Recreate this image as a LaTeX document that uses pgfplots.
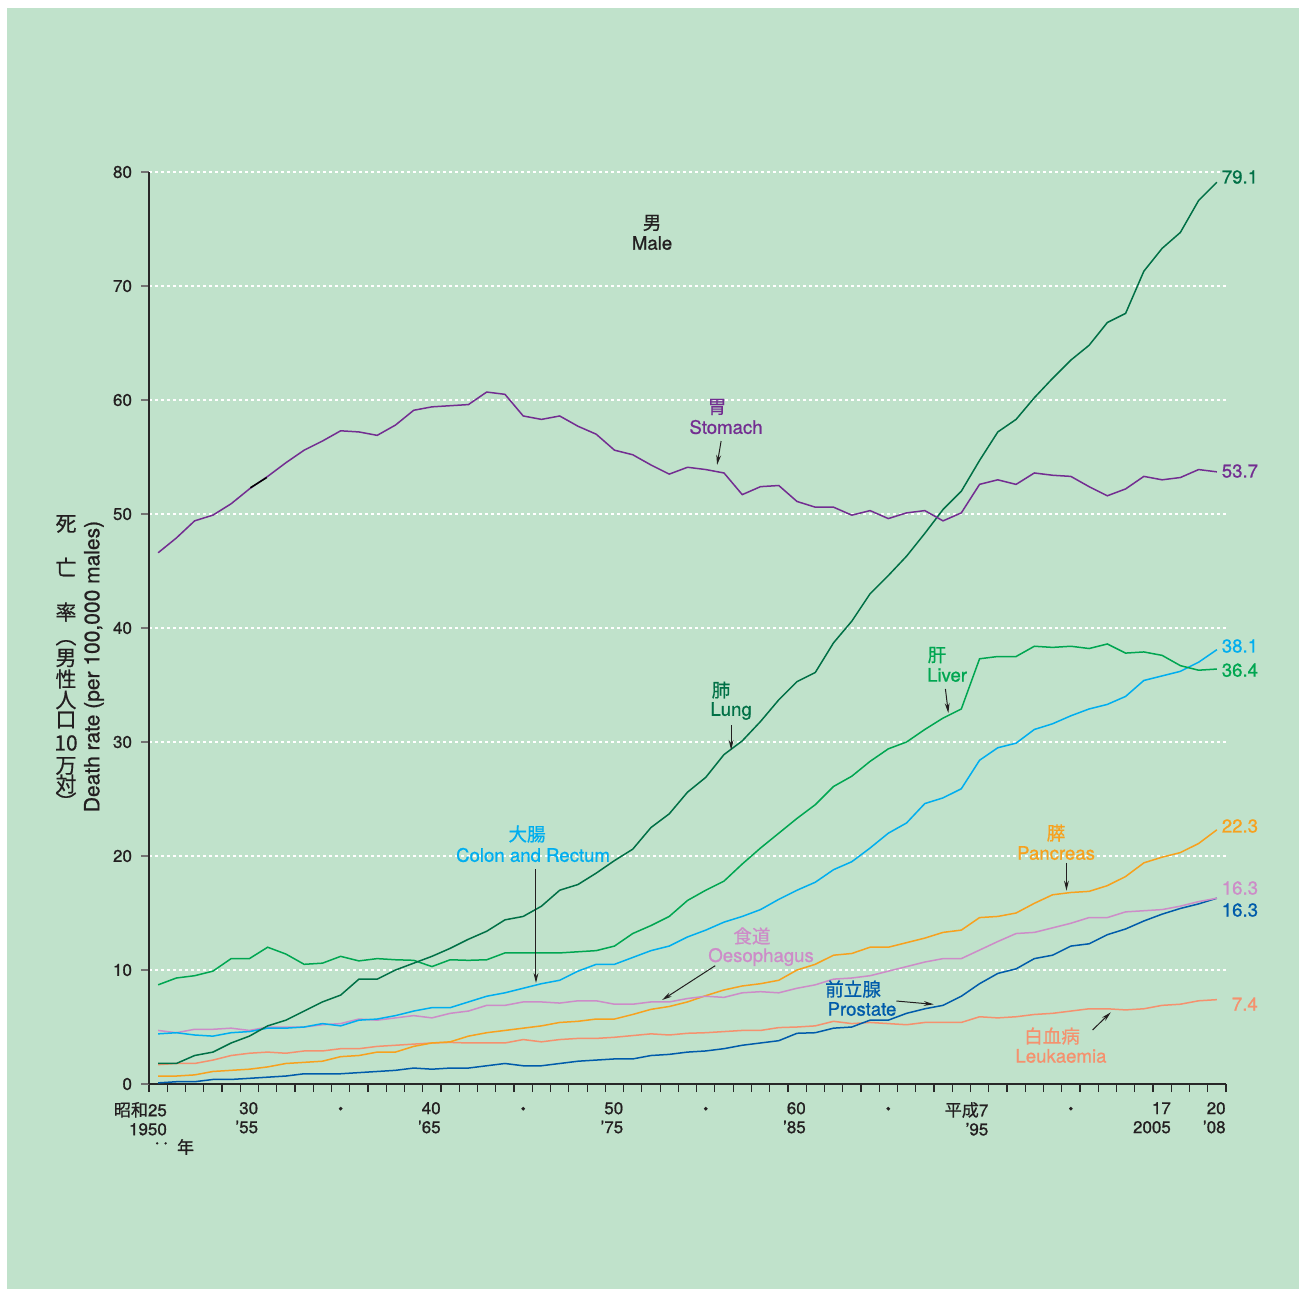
\documentclass[border=0pt]{standalone}
\usepackage{pgfplots}
\pgfplotsset{compat=1.18}
\usepackage{pgfplotstable}
\usetikzlibrary{arrows.meta}
\usepackage{fontspec}
\setmainfont{TeX Gyre Heros}[FakeBold=0.9]
\newfontfamily\cjk{Noto Sans CJK JP}[FakeBold=0.6]
\definecolor{bg}{RGB}{192,226,203}
\definecolor{txt}{RGB}{35,31,32}
\definecolor{axc}{RGB}{40,40,40}
\definecolor{cst}{RGB}{115,45,145}
\definecolor{clu}{RGB}{0,112,70}
\definecolor{cli}{RGB}{0,166,81}
\definecolor{cco}{RGB}{0,174,239}
\definecolor{cpa}{RGB}{247,161,30}
\definecolor{coe}{RGB}{205,140,200}
\definecolor{cpr}{RGB}{0,91,170}
\definecolor{cle}{RGB}{245,145,110}
\newcommand\fa{\fontsize{9.3}{10.2}\selectfont}
\newcommand\fb{\fontsize{8.5}{9.5}\selectfont}
\newcommand\fy{\fontsize{10.5}{12}\selectfont}

\pgfplotstableread{
year st lu li co pa oe pr le
1950 46.6 1.8 8.7 4.4 0.7 4.7 0.1 1.7
1951 47.9 1.8 9.3 4.5 0.7 4.5 0.2 1.8
1952 49.4 2.5 9.5 4.3 0.8 4.8 0.2 1.8
1953 49.9 2.8 9.9 4.2 1.1 4.8 0.4 2.1
1954 50.9 3.6 11.0 4.5 1.2 4.9 0.4 2.5
1955 52.2 4.2 11.0 4.6 1.3 4.7 0.5 2.7
1956 53.3 5.1 12.0 4.9 1.5 5.0 0.6 2.8
1957 54.5 5.6 11.4 4.9 1.8 5.0 0.7 2.7
1958 55.6 6.4 10.5 5.0 1.9 5.0 0.9 2.9
1959 56.4 7.2 10.6 5.3 2.0 5.2 0.9 2.9
1960 57.3 7.8 11.2 5.1 2.4 5.3 0.9 3.1
1961 57.2 9.2 10.8 5.6 2.5 5.7 1.0 3.1
1962 56.9 9.2 11.0 5.7 2.8 5.6 1.1 3.3
1963 57.8 10.0 10.9 6.0 2.8 5.8 1.2 3.4
1964 59.1 10.6 10.85 6.4 3.3 6.0 1.4 3.5
1965 59.4 11.2 10.3 6.7 3.6 5.8 1.3 3.6
1966 59.5 11.9 10.9 6.7 3.7 6.2 1.4 3.65
1967 59.6 12.7 10.85 7.2 4.2 6.4 1.4 3.6
1968 60.7 13.4 10.9 7.7 4.5 6.9 1.6 3.6
1969 60.5 14.4 11.5 8.0 4.7 6.9 1.8 3.6
1970 58.6 14.7 11.5 8.4 4.9 7.2 1.6 3.9
1971 58.3 15.6 11.5 8.8 5.1 7.2 1.6 3.7
1972 58.6 17.0 11.5 9.1 5.4 7.1 1.8 3.9
1973 57.7 17.5 11.6 9.9 5.5 7.3 2.0 4.0
1974 57.0 18.5 11.7 10.5 5.7 7.3 2.1 4.0
1975 55.6 19.6 12.1 10.5 5.7 7.0 2.2 4.1
1976 55.2 20.6 13.2 11.1 6.1 7.0 2.2 4.25
1977 54.3 22.5 13.9 11.7 6.55 7.2 2.5 4.4
1978 53.5 23.7 14.7 12.1 6.8 7.2 2.6 4.3
1979 54.1 25.6 16.1 12.9 7.2 7.5 2.8 4.45
1980 53.9 26.9 17.0 13.5 7.75 7.7 2.9 4.5
1981 53.6 28.9 17.8 14.2 8.25 7.6 3.1 4.6
1982 51.7 30.1 19.3 14.7 8.6 8.0 3.4 4.7
1983 52.4 31.8 20.7 15.3 8.8 8.1 3.6 4.7
1984 52.5 33.7 22.0 16.2 9.1 8.0 3.8 4.95
1985 51.1 35.3 23.3 17.0 10.0 8.4 4.45 5.0
1986 50.6 36.1 24.5 17.7 10.5 8.7 4.5 5.1
1987 50.6 38.7 26.1 18.8 11.3 9.2 4.9 5.5
1988 49.9 40.6 27.0 19.5 11.45 9.3 5.0 5.3
1989 50.3 43.0 28.3 20.7 12.0 9.5 5.6 5.4
1990 49.6 44.6 29.4 22.0 12.0 9.9 5.6 5.3
1991 50.1 46.3 30.0 22.9 12.4 10.3 6.2 5.2
1992 50.3 48.3 31.1 24.6 12.8 10.7 6.6 5.4
1993 49.4 50.4 32.1 25.1 13.3 11.0 6.9 5.4
1994 50.1 52.0 32.9 25.9 13.5 11.0 7.7 5.4
1995 52.6 54.7 37.3 28.4 14.6 11.75 8.8 5.9
1996 53.0 57.2 37.5 29.5 14.7 12.5 9.7 5.8
1997 52.6 58.3 37.5 29.9 15.0 13.2 10.1 5.9
1998 53.6 60.2 38.4 31.1 15.85 13.3 11.0 6.1
1999 53.4 61.9 38.3 31.6 16.6 13.7 11.3 6.2
2000 53.3 63.5 38.4 32.3 16.8 14.1 12.1 6.4
2001 52.4 64.8 38.2 32.9 16.9 14.6 12.3 6.6
2002 51.6 66.8 38.6 33.3 17.4 14.6 13.1 6.6
2003 52.2 67.6 37.8 34.0 18.2 15.1 13.6 6.5
2004 53.3 71.3 37.9 35.4 19.4 15.2 14.3 6.6
2005 53.0 73.3 37.6 35.8 19.9 15.3 14.9 6.9
2006 53.2 74.7 36.7 36.2 20.3 15.6 15.4 7.0
2007 53.9 77.5 36.3 37.0 21.1 16.0 15.8 7.3
2008 53.7 79.1 36.4 38.1 22.3 16.3 16.3 7.4
}\data

\begin{document}
\begin{tikzpicture}
\fill[white] (0,0) rectangle (649.5pt,-644.5pt);
\fill[bg] (3.5pt,-4pt) rectangle (649.5pt,-644.5pt);
\begin{axis}[
  at={(74.5pt,-542pt)}, anchor=south west,
  scale only axis, width=538.5pt, height=456pt,
  xmin=1949.5, xmax=2008.5, ymin=0, ymax=80,
  axis lines=left, axis line style={-},
  x axis line style={line width=1.1pt, color=axc},
  y axis line style={line width=0.9pt, color=axc},
  clip=false,
  ytick={0,10,...,80},
  ymajorgrids,
  major grid style={white, line width=0.65pt, dash pattern=on 1.7pt off 1.3pt},
  xtick={1950.5,1955.5,1965.5,1975.5,1985.5,1995.5,2005.5,2008.5},
  xticklabels={{{\cjk 昭和}25\\1950},{30\\’55},{40\\’65},{50\\’75},{60\\’85},{{\cjk 平成}7\\’95},{17\\2005},{20\\’08}},
  minor xtick={1949.5,1950.5,...,2008.5},
  tick align=outside, major tick length=4pt, minor tick length=4pt,
  xtick style={line width=0.6pt, color=axc},
  ytick style={line width=0.9pt, color=black!55},
  xticklabel style={align=right, anchor=north east, font=\fb, text=txt, inner xsep=0pt, yshift=-1.5pt},
  yticklabel style={font=\fb, text=txt, xshift=-1pt},
  /pgf/number format/assume math mode=true,
]
\addplot[cle, line width=0.75pt] table[x=year,y=le] {\data};
\addplot[cpr, line width=0.75pt] table[x=year,y=pr] {\data};
\addplot[cpa, line width=0.75pt] table[x=year,y=pa] {\data};
\addplot[coe, line width=0.75pt] table[x=year,y=oe] {\data};
\addplot[cco, line width=0.75pt] table[x=year,y=co] {\data};
\addplot[cli, line width=0.75pt] table[x=year,y=li] {\data};
\addplot[clu, line width=0.75pt] table[x=year,y=lu] {\data};
\addplot[cst, line width=0.75pt] table[x=year,y=st] {\data};
\addplot[black, line width=0.75pt] coordinates {(1955.05,52.3) (1955.95,53.2)};

% dots between labels
\pgfplotsinvokeforeach{1960,1970,1980,1990,2000}{
  \node[font=\fb\cjk, text=txt] at ([yshift=-13.5pt]axis cs:#1,0) {・};
}
\node[font=\fb\cjk, text=txt] at ([yshift=-31pt]axis cs:1950.18,0) {‥};
\node[font=\fb\cjk, text=txt] at ([yshift=-31.5pt]axis cs:1951.5,0) {年};

% annotations
\node[font=\fa\cjk, text=txt] at (axis cs:1977.06,75.53) {男};
\node[font=\fa, text=txt] at (axis cs:1977.06,73.77) {Male};

\node[font=\fa\cjk, text=cst] at (axis cs:1980.62,59.39) {胃};
\node[font=\fa, text=cst] at (axis cs:1981.11,57.63) {Stomach};
\draw[-{Stealth[length=5pt,width=2.4pt]}, line width=0.5pt, txt] (axis cs:1980.84,56.40) -- (axis cs:1980.62,54.30);

\node[font=\fa\cjk, text=clu] at (axis cs:1980.84,34.56) {肺};
\node[font=\fa, text=clu] at (axis cs:1981.39,32.72) {Lung};
\draw[-{Stealth[length=5pt,width=2.4pt]}, line width=0.5pt, txt] (axis cs:1981.39,31.49) -- (axis cs:1981.39,29.30);

\node[font=\fa\cjk, text=cli] at (axis cs:1992.67,37.63) {肝};
\node[font=\fa, text=cli] at (axis cs:1993.22,35.88) {Liver};
\draw[-{Stealth[length=5pt,width=2.4pt]}, line width=0.5pt, txt] (axis cs:1993.13,34.65) -- (axis cs:1993.29,32.54);

\node[font=\fa\cjk, text=cco] at (axis cs:1970.21,21.93) {大腸};
\node[font=\fa, text=cco] at (axis cs:1970.54,20.09) {Colon and Rectum};
\draw[-{Stealth[length=5pt,width=2.4pt]}, line width=0.5pt, txt] (axis cs:1970.70,18.86) -- (axis cs:1970.70,8.86);

\node[font=\fa\cjk, text=cpa] at (axis cs:1999.19,22.02) {膵};
\node[font=\fa, text=cpa] at (axis cs:1999.19,20.26) {Pancreas};
\draw[-{Stealth[length=5pt,width=2.4pt]}, line width=0.5pt, txt] (axis cs:1999.76,19.39) -- (axis cs:1999.76,16.96);

\node[font=\fa\cjk, text=coe] at (axis cs:1982.53,12.98) {食道};
\node[font=\fa, text=coe] at (axis cs:1983.03,11.14) {Oesophagus};
\draw[-{Stealth[length=5pt,width=2.4pt]}, line width=0.5pt, txt] (axis cs:1980.52,10.38) -- (axis cs:1977.61,7.37);

\node[font=\fa\cjk, text=cpr] at (axis cs:1988.07,8.33) {前立腺};
\node[font=\fa, text=cpr] at (axis cs:1988.56,6.58) {Prostate};
\draw[-{Stealth[length=5pt,width=2.4pt]}, line width=0.5pt, txt] (axis cs:1990.44,7.28) -- (axis cs:1992.49,6.99);

\node[font=\fa\cjk, text=cle] at (axis cs:1998.97,4.21) {白血病};
\node[font=\fa, text=cle] at (axis cs:1999.46,2.46) {Leukaemia};
\draw[-{Stealth[length=5pt,width=2.4pt]}, line width=0.5pt, txt] (axis cs:2001.19,4.74) -- (axis cs:2002.19,6.29);

% end values
\node[anchor=west, inner xsep=0pt, font=\fa, text=clu] at (axis cs:2008.25,79.56) {79.1};
\node[anchor=west, inner xsep=0pt, font=\fa, text=cst] at (axis cs:2008.25,53.77) {53.7};
\node[anchor=west, inner xsep=0pt, font=\fa, text=cco] at (axis cs:2008.25,38.42) {38.1};
\node[anchor=west, inner xsep=0pt, font=\fa, text=cli] at (axis cs:2008.25,36.30) {36.4};
\node[anchor=west, inner xsep=0pt, font=\fa, text=cpa] at (axis cs:2008.25,22.63) {22.3};
\node[anchor=west, inner xsep=0pt, font=\fa, text=coe] at (axis cs:2008.25,17.19) {16.3};
\node[anchor=west, inner xsep=0pt, font=\fa, text=cpr] at (axis cs:2008.25,15.26) {16.3};
\node[anchor=west, inner xsep=0pt, font=\fa, text=cle] at (axis cs:2008.8,7.02) {7.4};
\end{axis}

% y axis titles
\node[rotate=90, font=\fy, text=txt] at (47pt,-333.25pt) {Death rate (per 100,000 males)};
\foreach \c/\yy in {死/524,亡/567,率/612,男/658,性/679,人/700,口/720,10/743,万/766,対/784}{
  \node[font=\fy\cjk, text=txt, inner sep=0pt] at (33pt,-\yy*0.5pt) {\c};
}
\node[font=\fy\cjk, text=txt, inner sep=0pt, rotate=-90] at (33pt,-318pt) {（};
\node[font=\fy\cjk, text=txt, inner sep=0pt, rotate=-90] at (33pt,-401pt) {）};
\pgfresetboundingbox
\useasboundingbox (0,0) rectangle (649.5pt,-644.5pt);
\end{tikzpicture}
\end{document}
